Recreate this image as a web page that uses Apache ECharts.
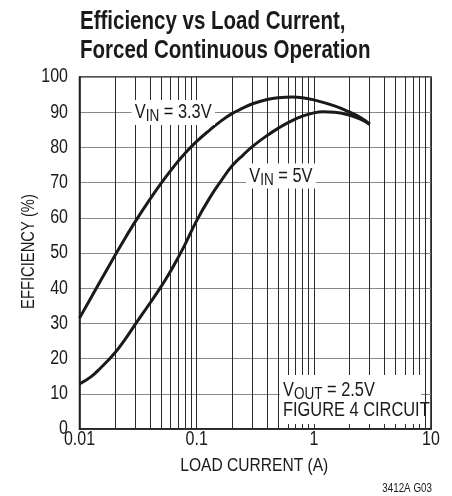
<!DOCTYPE html>
<html><head><meta charset="utf-8">
<script src="https://cdn.jsdelivr.net/npm/echarts@6/dist/echarts.min.js"></script>
<style>html,body{margin:0;padding:0;background:#fff}#c{width:452px;height:496px}</style>
</head><body><div id="c"></div>
<script>
const titleLines = ['Efficiency vs Load Current,', 'Forced Continuous Operation'];
const xName = 'LOAD CURRENT (A)';
const yName = 'EFFICIENCY (%)';
const xTicks = [0.01, 0.1, 1, 10];
const xTickLabels = ['0.01', '0.1', '1', '10'];
const yTicks = [0, 10, 20, 30, 40, 50, 60, 70, 80, 90, 100];
const minorX = [0.02,0.03,0.04,0.05,0.06,0.07,0.08,0.09,0.2,0.3,0.4,0.5,0.6,0.7,0.8,0.9,2,3,4,5,6,7,8,9];

const current33 = [0.01,0.0125,0.015,0.02,0.025,0.03,0.04,0.05,0.065,0.08,0.1,0.13,0.16,0.2,0.25,0.3,0.4,0.5,0.65,0.8,1,1.5,2,2.5,3];
const eff33     = [31.5,37.2,41.9,49.2,54.7,59.0,65.3,69.9,74.9,78.4,81.7,85.0,87.4,89.6,91.2,92.4,93.6,94.1,94.3,94.1,93.5,91.8,90.1,88.5,86.7];
const current5  = [0.01,0.0125,0.015,0.02,0.025,0.03,0.04,0.05,0.06,0.07,0.08,0.1,0.13,0.16,0.2,0.25,0.3,0.4,0.5,0.6,0.7,0.8,1,1.2,1.5,2,2.5,3];
const eff5      = [12.8,14.8,17.2,21.6,25.9,29.8,35.8,40.6,44.9,48.9,52.6,59.2,65.8,70.3,74.7,77.9,80.3,83.4,85.5,87.0,88.1,88.9,89.8,90.1,90.0,89.2,88.0,86.5];

const seriesNames = ['VIN = 3.3V', 'VIN = 5V'];
const noteLines = ['VOUT = 2.5V', 'FIGURE 4 CIRCUIT'];
const codeLabel = '3412A G03';

const FONT = '"Liberation Sans", Arial, sans-serif';
const INK = '#1a1a1a';
const SX = 0.82;

const chart = echarts.init(document.getElementById('c'), null, {renderer: 'canvas'});
function pairs(xs, ys) { return xs.map((x, i) => [x, ys[i]]); }

const option = {
  animation: false,
  backgroundColor: '#fff',
  grid: {left: 79.5, top: 77, width: 351.5, height: 352, show: true, borderColor: INK, borderWidth: 1.5, backgroundColor: 'transparent'},
  xAxis: {
    type: 'log', logBase: 10, min: 0.01, max: 10,
    axisLine: {show: true, lineStyle: {color: INK, width: 1.5}},
    axisTick: {show: false},
    axisLabel: {show: false},
    splitLine: {show: true, lineStyle: {color: '#2a2a2a', width: 1}}
  },
  yAxis: {
    type: 'value', min: 0, max: 100, interval: 10,
    axisLine: {show: true, lineStyle: {color: INK, width: 1.5}},
    axisTick: {show: false},
    axisLabel: {show: false},
    splitLine: {show: true, lineStyle: {color: '#888', width: 1}}
  },
  series: [
    {
      name: seriesNames[0], type: 'line', smooth: 0.45, symbol: 'none', z: 5,
      data: pairs(current33, eff33),
      lineStyle: {color: INK, width: 3},
      markLine: {
        silent: true, symbol: 'none', label: {show: false}, z: 1,
        lineStyle: {color: '#2a2a2a', width: 1, type: 'solid'},
        data: minorX.map(x => ({xAxis: x}))
      }
    },
    {
      name: seriesNames[1], type: 'line', smooth: 0.45, symbol: 'none', z: 5,
      data: pairs(current5, eff5),
      lineStyle: {color: INK, width: 3}
    }
  ]
};
chart.setOption(option);

function T(text, x, y, size, align, extra, styleExtra) {
  return Object.assign({type: 'text', x: x, y: y, scaleX: SX, z: 30,
    style: Object.assign({text: text, fontFamily: FONT, fontSize: size, fill: INK, align: align, verticalAlign: 'middle'}, styleExtra || {})
  }, extra || {});
}

const g = [];
const px = (x, y) => chart.convertToPixel({gridIndex: 0}, [x, y]);
xTicks.forEach((v, i) => { const p = px(v, 0); g.push(T(xTickLabels[i], p[0], p[1] + 11, 19.5, 'center')); });
yTicks.forEach(v => { const p = px(xTicks[0], v); g.push(T(String(v), p[0] - 11.5, p[1], 19.5, 'right')); });

const pMidX = px(Math.sqrt(0.01 * 10), 0);
g.push(T(xName, pMidX[0] - 1, pMidX[1] + 37, 19, 'center'));
const pMidY = px(0.01, 50);
g.push(T(yName, pMidY[0] - 50, pMidY[1] - 1.5, 18, 'center', {rotation: Math.PI / 2}));

// title
g.push(T(titleLines[0], 80, 22.5, 25, 'left', null, {fontWeight: 'bold'}));
g.push(T(titleLines[1], 80, 51, 25, 'left', null, {fontWeight: 'bold'}));

const rich = {
  v: {fontFamily: FONT, fontSize: 20, fill: INK, color: INK},
  s: {fontFamily: FONT, fontSize: 16.5, fill: INK, color: INK, padding: [8, 0, 0, 0]}
};
g.push(T('{v|V}{s|IN}{v| = 3.3V}', 131.5, 112.5, 20, 'left', {z: 40},
  {rich: rich, backgroundColor: '#fff', padding: [0, 4, 0, 4]}));
g.push(T('{v|V}{s|IN}{v| = 5V}', 246, 176, 20, 'left', {z: 40},
  {rich: rich, backgroundColor: '#fff', padding: [0, 4, 0, 4]}));

// note box
g.push({type: 'rect', z: 35, shape: {x: 280, y: 375, width: 141, height: 49}, style: {fill: '#fff'}});
g.push(T('{v|V}{s|OUT}{v| = 2.5V}', 283, 390.5, 20, 'left', {z: 40}, {rich: rich}));
g.push(T(noteLines[1], 283, 410.5, 20, 'left', {z: 40}));

g.push(T(codeLabel, 432, 488.5, 12, 'right'));

chart.setOption({graphic: g});
</script>
</body></html>
